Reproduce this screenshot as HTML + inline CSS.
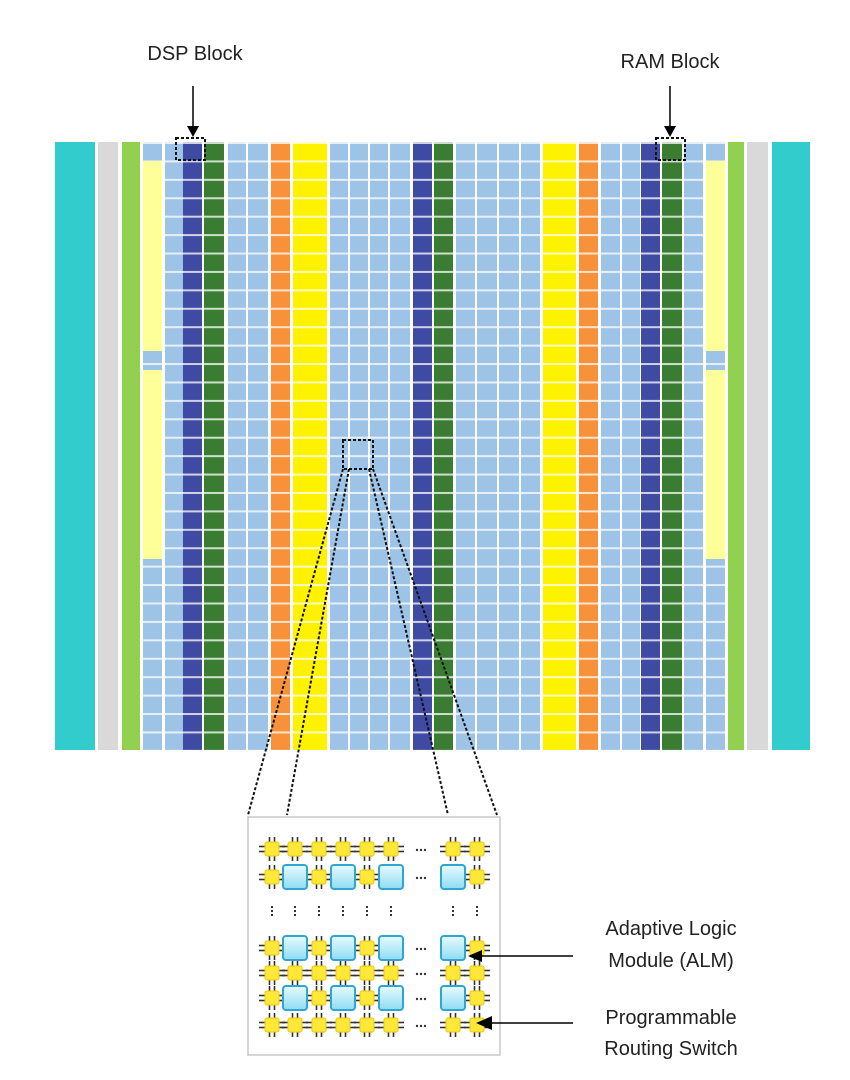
<!DOCTYPE html>
<html><head><meta charset="utf-8"><style>
html,body{margin:0;padding:0;background:#fff}
svg{display:block}
text{font-family:"Liberation Sans",sans-serif;fill:#222}
</style></head><body>
<svg width="850" height="1080" viewBox="0 0 850 1080" xmlns="http://www.w3.org/2000/svg">
<defs>
<pattern id="rows" x="0" y="142" width="10" height="18.42" patternUnits="userSpaceOnUse">
<rect x="0" y="0" width="10" height="2" fill="#fff"/>
</pattern>
<linearGradient id="alm" x1="0" y1="0" x2="0" y2="1"><stop offset="0" stop-color="#e8fbff"/><stop offset="1" stop-color="#8fdcf2"/></linearGradient>
<g id="sw">
<g stroke="#333" stroke-width="1.6">
<line x1="-2.5" y1="-12" x2="-2.5" y2="-7"/><line x1="2.5" y1="-12" x2="2.5" y2="-7"/>
<line x1="-2.5" y1="7" x2="-2.5" y2="12"/><line x1="2.5" y1="7" x2="2.5" y2="12"/>
<line x1="-13" y1="-2.5" x2="-7" y2="-2.5"/><line x1="-13" y1="2.5" x2="-7" y2="2.5"/>
<line x1="7" y1="-2.5" x2="13" y2="-2.5"/><line x1="7" y1="2.5" x2="13" y2="2.5"/>
</g>
<rect x="-7" y="-7" width="14" height="14" rx="2" fill="#ffe83a" stroke="#f0c800"/>
</g>
<g id="alm1">
<rect x="-12" y="-12" width="24" height="24" rx="3" fill="url(#alm)" stroke="#2fa6cf" stroke-width="2"/>
</g>
</defs>

<!-- labels -->
<text x="195" y="60" font-size="20" text-anchor="middle">DSP Block</text>
<text x="670" y="68" font-size="20" text-anchor="middle">RAM Block</text>
<line x1="193" y1="86" x2="193" y2="128" stroke="#000" stroke-width="1.5"/>
<polygon points="187,126 199,126 193,137" fill="#000"/>
<line x1="670" y1="86" x2="670" y2="128" stroke="#000" stroke-width="1.5"/>
<polygon points="664,126 676,126 670,137" fill="#000"/>

<!-- edge columns -->
<rect x="55" y="142" width="40" height="608" fill="#33cccc"/>
<rect x="98" y="142" width="20" height="608" fill="#d9d9d9"/>
<rect x="122" y="142" width="18" height="608" fill="#92d050"/>
<rect x="728" y="142" width="16" height="608" fill="#92d050"/>
<rect x="747" y="142" width="21" height="608" fill="#d9d9d9"/>
<rect x="772" y="142" width="38" height="608" fill="#33cccc"/>

<!-- light blue columns -->
<g fill="#9dc3e6">
<rect x="143" y="142" width="19" height="608"/>
<rect x="165" y="142" width="18" height="608"/>
<rect x="228" y="142" width="18" height="608"/>
<rect x="248" y="142" width="20" height="608"/>
<rect x="330" y="142" width="18" height="608"/>
<rect x="350" y="142" width="18" height="608"/>
<rect x="370" y="142" width="18" height="608"/>
<rect x="390" y="142" width="20" height="608"/>
<rect x="456" y="142" width="19" height="608"/>
<rect x="477" y="142" width="20" height="608"/>
<rect x="499" y="142" width="20" height="608"/>
<rect x="521" y="142" width="19" height="608"/>
<rect x="601" y="142" width="19" height="608"/>
<rect x="622" y="142" width="18" height="608"/>
<rect x="684" y="142" width="19" height="608"/>
<rect x="706" y="142" width="19" height="608"/>
</g>
<!-- colored columns -->
<rect x="183" y="142" width="19" height="608" fill="#3f4aa3"/>
<rect x="204" y="142" width="20" height="608" fill="#3a7d32"/>
<rect x="271" y="142" width="19" height="608" fill="#f7923a"/>
<rect x="293" y="142" width="34" height="608" fill="#fff200"/>
<rect x="413" y="142" width="19" height="608" fill="#3f4aa3"/>
<rect x="434" y="142" width="19" height="608" fill="#3a7d32"/>
<rect x="543" y="142" width="33" height="608" fill="#fff200"/>
<rect x="579" y="142" width="19" height="608" fill="#f7923a"/>
<rect x="641" y="142" width="19" height="608" fill="#3f4aa3"/>
<rect x="662" y="142" width="20" height="608" fill="#3a7d32"/>

<!-- row lines -->
<rect x="143" y="142" width="582" height="608" fill="url(#rows)" opacity="0.75"/>

<!-- yellow strips -->
<g fill="#ffff99">
<rect x="143" y="161" width="19" height="190"/>
<rect x="143" y="370" width="19" height="189"/>
<rect x="706" y="161" width="19" height="190"/>
<rect x="706" y="370" width="19" height="189"/>
</g>

<!-- dashed boxes -->
<g fill="none" stroke="#111" stroke-width="2" stroke-dasharray="3,2">
<rect x="176" y="138" width="29" height="22"/>
<rect x="656" y="138" width="29" height="22"/>
<rect x="343" y="440" width="30" height="29"/>
<line x1="343" y1="469" x2="248" y2="815"/>
<line x1="349" y1="469" x2="287" y2="815"/>
<line x1="369" y1="469" x2="448" y2="815"/>
<line x1="373" y1="469" x2="497" y2="815"/>
</g>

<!-- inset -->
<rect x="248" y="817" width="252" height="238" fill="#fff" stroke="#c8c8c8" stroke-width="1.5"/>

<!-- row 1 all switches y=849 -->
<g>
<use href="#sw" x="272" y="849"/><use href="#sw" x="295" y="849"/><use href="#sw" x="319" y="849"/><use href="#sw" x="343" y="849"/><use href="#sw" x="367" y="849"/><use href="#sw" x="391" y="849"/><use href="#sw" x="453" y="849"/><use href="#sw" x="477" y="849"/>
<use href="#sw" x="272" y="877"/><use href="#sw" x="319" y="877"/><use href="#sw" x="367" y="877"/><use href="#sw" x="477" y="877"/>
<use href="#alm1" x="295" y="877"/><use href="#alm1" x="343" y="877"/><use href="#alm1" x="391" y="877"/><use href="#alm1" x="453" y="877"/>
<use href="#sw" x="272" y="948"/><use href="#sw" x="319" y="948"/><use href="#sw" x="367" y="948"/><use href="#sw" x="477" y="948"/>
<use href="#alm1" x="295" y="948"/><use href="#alm1" x="343" y="948"/><use href="#alm1" x="391" y="948"/><use href="#alm1" x="453" y="948"/>
<use href="#sw" x="272" y="973"/><use href="#sw" x="295" y="973"/><use href="#sw" x="319" y="973"/><use href="#sw" x="343" y="973"/><use href="#sw" x="367" y="973"/><use href="#sw" x="391" y="973"/><use href="#sw" x="453" y="973"/><use href="#sw" x="477" y="973"/>
<use href="#sw" x="272" y="998"/><use href="#sw" x="319" y="998"/><use href="#sw" x="367" y="998"/><use href="#sw" x="477" y="998"/>
<use href="#alm1" x="295" y="998"/><use href="#alm1" x="343" y="998"/><use href="#alm1" x="391" y="998"/><use href="#alm1" x="453" y="998"/>
<use href="#sw" x="272" y="1025"/><use href="#sw" x="295" y="1025"/><use href="#sw" x="319" y="1025"/><use href="#sw" x="343" y="1025"/><use href="#sw" x="367" y="1025"/><use href="#sw" x="391" y="1025"/><use href="#sw" x="453" y="1025"/><use href="#sw" x="477" y="1025"/>
</g>
<!-- ellipses -->
<g fill="#333">
<circle cx="417" cy="850" r="1.2"/><circle cx="421" cy="850" r="1.2"/><circle cx="425" cy="850" r="1.2"/>
<circle cx="417" cy="878" r="1.2"/><circle cx="421" cy="878" r="1.2"/><circle cx="425" cy="878" r="1.2"/>
<circle cx="417" cy="949" r="1.2"/><circle cx="421" cy="949" r="1.2"/><circle cx="425" cy="949" r="1.2"/>
<circle cx="417" cy="974" r="1.2"/><circle cx="421" cy="974" r="1.2"/><circle cx="425" cy="974" r="1.2"/>
<circle cx="417" cy="999" r="1.2"/><circle cx="421" cy="999" r="1.2"/><circle cx="425" cy="999" r="1.2"/>
<circle cx="417" cy="1026" r="1.2"/><circle cx="421" cy="1026" r="1.2"/><circle cx="425" cy="1026" r="1.2"/>
<!-- vertical dots -->
<g>
<rect x="271" y="906" width="2" height="2"/><rect x="271" y="910" width="2" height="2"/><rect x="271" y="914" width="2" height="2"/>
<rect x="294" y="906" width="2" height="2"/><rect x="294" y="910" width="2" height="2"/><rect x="294" y="914" width="2" height="2"/>
<rect x="318" y="906" width="2" height="2"/><rect x="318" y="910" width="2" height="2"/><rect x="318" y="914" width="2" height="2"/>
<rect x="342" y="906" width="2" height="2"/><rect x="342" y="910" width="2" height="2"/><rect x="342" y="914" width="2" height="2"/>
<rect x="366" y="906" width="2" height="2"/><rect x="366" y="910" width="2" height="2"/><rect x="366" y="914" width="2" height="2"/>
<rect x="390" y="906" width="2" height="2"/><rect x="390" y="910" width="2" height="2"/><rect x="390" y="914" width="2" height="2"/>
<rect x="452" y="906" width="2" height="2"/><rect x="452" y="910" width="2" height="2"/><rect x="452" y="914" width="2" height="2"/>
<rect x="476" y="906" width="2" height="2"/><rect x="476" y="910" width="2" height="2"/><rect x="476" y="914" width="2" height="2"/>
</g>
</g>

<!-- callouts -->
<line x1="573" y1="956" x2="478" y2="956" stroke="#000" stroke-width="1.5"/>
<polygon points="468,956 482,950 482,962" fill="#000"/>
<line x1="573" y1="1023" x2="488" y2="1023" stroke="#000" stroke-width="1.5"/>
<polygon points="476,1023 492,1016 492,1030" fill="#000"/>
<text x="671" y="935" font-size="20" text-anchor="middle">Adaptive Logic</text>
<text x="671" y="967" font-size="20" text-anchor="middle">Module (ALM)</text>
<text x="671" y="1024" font-size="20" text-anchor="middle">Programmable</text>
<text x="671" y="1055" font-size="20" text-anchor="middle">Routing Switch</text>
</svg>
</body></html>
